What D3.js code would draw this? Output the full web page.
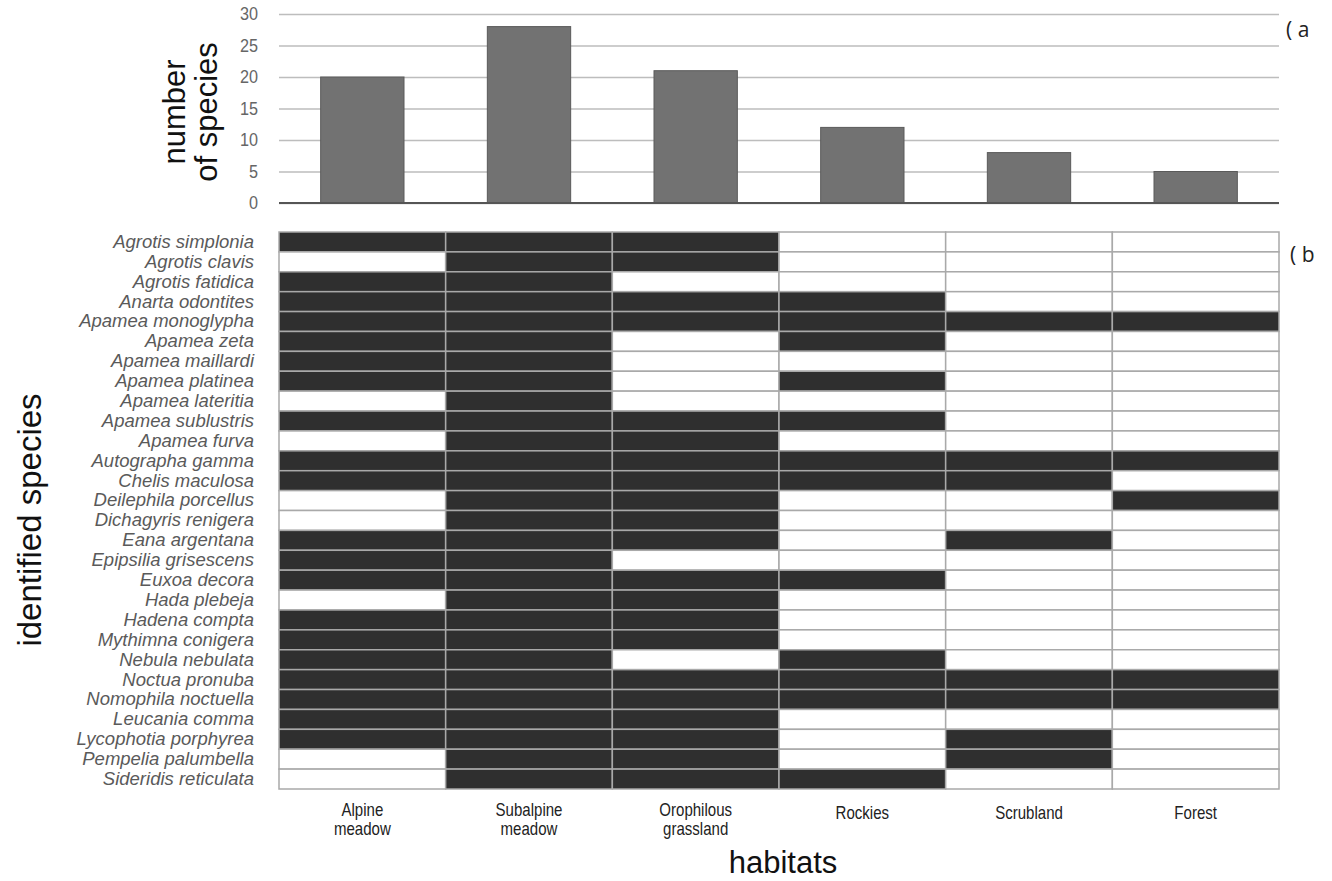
<!DOCTYPE html>
<html><head><meta charset="utf-8">
<script src="https://cdn.jsdelivr.net/npm/d3@7"></script>
<style>
body{margin:0;background:#fff;}
svg{display:block;}
</style></head>
<body>
<svg id="c" width="1332" height="881"></svg>
<script>
const habitats = ["Alpine meadow","Subalpine meadow","Orophilous grassland","Rockies","Scrubland","Forest"];
const habitatLines = [["Alpine","meadow"],["Subalpine","meadow"],["Orophilous","grassland"],["Rockies"],["Scrubland"],["Forest"]];
const speciesCounts = [20,28,21,12,8,5];
const yTicks = [0,5,10,15,20,25,30];
const species = ["Agrotis simplonia","Agrotis clavis","Agrotis fatidica","Anarta odontites","Apamea monoglypha","Apamea zeta","Apamea maillardi","Apamea platinea","Apamea lateritia","Apamea sublustris","Apamea furva","Autographa gamma","Chelis maculosa","Deilephila porcellus","Dichagyris renigera","Eana argentana","Epipsilia grisescens","Euxoa decora","Hada plebeja","Hadena compta","Mythimna conigera","Nebula nebulata","Noctua pronuba","Nomophila noctuella","Leucania comma","Lycophotia porphyrea","Pempelia palumbella","Sideridis reticulata"];
const presence = [
[1,1,1,0,0,0],
[0,1,1,0,0,0],
[1,1,0,0,0,0],
[1,1,1,1,0,0],
[1,1,1,1,1,1],
[1,1,0,1,0,0],
[1,1,0,0,0,0],
[1,1,0,1,0,0],
[0,1,0,0,0,0],
[1,1,1,1,0,0],
[0,1,1,0,0,0],
[1,1,1,1,1,1],
[1,1,1,1,1,0],
[0,1,1,0,0,1],
[0,1,1,0,0,0],
[1,1,1,0,1,0],
[1,1,0,0,0,0],
[1,1,1,1,0,0],
[0,1,1,0,0,0],
[1,1,1,0,0,0],
[1,1,1,0,0,0],
[1,1,0,1,0,0],
[1,1,1,1,1,1],
[1,1,1,1,1,1],
[1,1,1,0,0,0],
[1,1,1,0,1,0],
[0,1,1,0,1,0],
[0,1,1,1,0,0]
];

const svg = d3.select("#c");
const L = 279, R = 1279;
const sans = "'Liberation Sans',Arial,Helvetica,sans-serif";

// ---- (a) bar chart
const x = d3.scaleBand().domain(habitats).range([L,R]).paddingInner(0.5).paddingOuter(0.25);
const xc = d3.scaleBand().domain(habitats).range([L,R]);
const y = d3.scaleLinear().domain([0,30]).range([203,14]);

const ga = svg.append("g");
const yAxis = d3.axisLeft(y).tickValues(yTicks).tickSize(-(R-L)).tickPadding(21);
const yg = ga.append("g").attr("transform",`translate(${L},0)`).call(yAxis);
yg.select(".domain").remove();
yg.selectAll(".tick line").attr("stroke","#bdbdbd").attr("stroke-width",1.5);
yg.selectAll(".tick text").attr("fill","#666").attr("font-size",18)
  .attr("font-family",sans)
  .attr("transform","translate(-21,0) scale(0.9,1) translate(21,0)");

ga.selectAll("rect.bar").data(habitats).join("rect").attr("class","bar")
  .attr("x",d=>x(d)).attr("width",x.bandwidth())
  .attr("y",(d,i)=>y(speciesCounts[i])).attr("height",(d,i)=>y(0)-y(speciesCounts[i]))
  .attr("fill","#727272").attr("stroke","#5a5a5a").attr("stroke-width",1);

ga.append("line").attr("x1",L).attr("x2",R).attr("y1",y(0)).attr("y2",y(0))
  .attr("stroke","#555").attr("stroke-width",2);

const yt = ga.append("text").attr("transform","translate(0,112) rotate(-90)")
  .attr("text-anchor","middle").attr("font-family",sans)
  .attr("font-size",31).attr("fill","#111");
yt.append("tspan").attr("x",0).attr("y",185).text("number");
yt.append("tspan").attr("x",0).attr("y",217).text("of  species");

svg.append("text").attr("x",1286).attr("y",37).attr("font-family","'Open Sans',sans-serif")
  .attr("font-size",21).attr("fill","#222").text("( a");

// ---- (b) presence grid
const top0 = 232, bot0 = 789;
const yb = d3.scaleBand().domain(species).range([top0,bot0]);
const gb = svg.append("g");
const cells = [];
presence.forEach((row,i)=>row.forEach((v,j)=>cells.push({s:species[i],h:habitats[j],v})));
gb.selectAll("rect.cell").data(cells).join("rect").attr("class","cell")
  .attr("x",d=>xc(d.h)).attr("width",xc.bandwidth())
  .attr("y",d=>yb(d.s)).attr("height",yb.bandwidth())
  .attr("fill",d=>d.v?"#2f2f2f":"#fff")
  .attr("stroke","#a9a9a9").attr("stroke-width",1.5);

const ya = d3.axisLeft(yb).tickSize(0).tickPadding(25);
const ybg = gb.append("g").attr("transform",`translate(${L},0)`).call(ya);
ybg.select(".domain").remove();
ybg.selectAll(".tick text").attr("font-family",sans)
  .attr("font-style","italic").attr("font-size",18.5).attr("fill","#5a5a5a");

svg.append("text").attr("x",1290).attr("y",262).attr("font-family","'Open Sans',sans-serif")
  .attr("font-size",21).attr("fill","#222").text("( b");

// x labels
const xl = svg.append("g");
habitats.forEach((h,i)=>{
  const lines = habitatLines[i];
  const cx = xc(h)+xc.bandwidth()/2;
  const t = xl.append("text")
    .attr("transform",`translate(${cx},${lines.length>1 ? 816 : 819}) scale(0.86,1)`)
    .attr("text-anchor","middle").attr("font-family",sans)
    .attr("font-size",17.5).attr("fill","#222");
  lines.forEach((ln,k)=>t.append("tspan").attr("x",0).attr("y",k*19).text(ln));
});

svg.append("text").attr("transform","translate(0,520) rotate(-90)")
  .attr("text-anchor","middle").attr("font-family",sans)
  .attr("font-size",33).attr("fill","#111").attr("y",41).text("identified species");

svg.append("text").attr("x",783).attr("y",873).attr("text-anchor","middle")
  .attr("font-family",sans).attr("font-size",31).attr("fill","#111").text("habitats");
</script>
</body></html>
